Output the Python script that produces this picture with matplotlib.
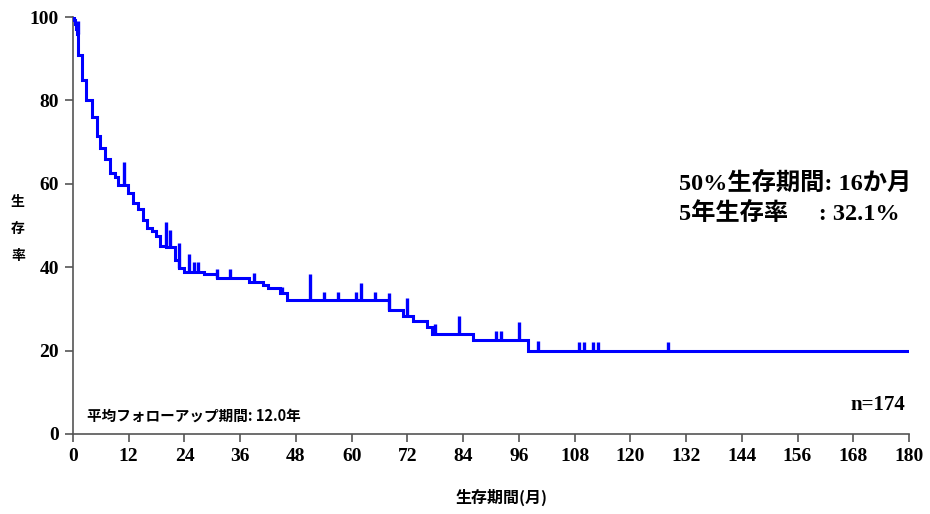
import numpy as np
import matplotlib
matplotlib.use("Agg")
import matplotlib.pyplot as plt

# Kaplan-Meier step curve: time of each drop (months) and survival after it (%)
event_months = [0, 0.2, 0.4, 0.6, 0.8, 1.1, 1.9, 2.9, 4.0, 5.1, 5.8, 6.9, 8.0,
                9.0, 9.7, 11.9, 13.0, 14.1, 15.0, 16.0, 17.0, 17.8, 18.8, 20.0,
                22.0, 22.9, 23.9, 28.1, 30.9, 38.0, 41.0, 42.0, 44.5, 46.0,
                68.0, 71.1, 73.1, 76.2, 77.2, 86.2, 98.0]
survival_pct = [100, 99.4, 98.3, 97.1, 96.0, 90.9, 84.9, 80.1, 76.0, 71.5, 68.6,
                65.9, 62.6, 61.6, 59.6, 57.7, 55.3, 53.9, 51.3, 49.3, 48.7, 47.4,
                45.2, 44.8, 41.8, 39.7, 38.9, 38.4, 37.4, 36.4, 35.7, 34.9, 33.9,
                32.1, 29.7, 28.4, 27.1, 25.6, 24.1, 22.5, 20.0]
curve_end_month = 180

# Censored observations: time (months) and top of the tick mark (%)
censor_months = [1.0, 11.0, 20.0, 20.9, 22.9, 25.0, 26.0, 27.0, 30.9, 33.9,
                 39.0, 45.1, 51.0, 54.0, 57.0, 61.0, 62.0, 65.0, 68.0, 72.0,
                 78.0, 83.1, 91.1, 92.1, 96.1, 100.1, 109.0, 110.0, 112.0,
                 113.1, 128.2]
censor_top_pct = [99.0, 65.3, 50.9, 48.9, 45.9, 43.1, 41.2, 41.2, 39.5, 39.5,
                  38.7, 35.2, 38.3, 34.1, 34.1, 34.1, 36.3, 34.1, 33.9, 32.7,
                  26.4, 28.4, 24.7, 24.7, 26.8, 22.2, 22.1, 22.1, 22.1, 22.1,
                  22.1]

x_ticks = list(range(0, 181, 12))
y_ticks = [0, 20, 40, 60, 80, 100]

median_text = "50%生存期間: 16か月"
five_year_text = "5年生存率     : 32.1%"
followup_text = "平均フォローアップ期間: 12.0年"
n_text = "n=174"
x_label = "生存期間(月)"
y_label = "生\n存\n率"

mixed = ["Liberation Serif", "Noto Sans CJK JP"]
gothic = ["Noto Sans CJK JP", "DejaVu Sans"]
blue = "#0000ff"

fig = plt.figure(figsize=(9.3, 5.14), dpi=100)
ax = fig.add_axes([73 / 930, (514 - 434) / 514, 836 / 930, 417 / 514])

t = np.array(event_months + [curve_end_month])
s = np.array(survival_pct + [survival_pct[-1]])
ax.step(t, s, where="post", color=blue, lw=2.2, solid_joinstyle="miter",
        zorder=3)

# censor ticks rise from the curve value at each censoring time
ct = np.array(censor_months)
idx = np.searchsorted(np.array(event_months), ct, side="right") - 1
base = np.array(survival_pct)[idx]
ax.vlines(ct, base, censor_top_pct, color=blue, lw=2.4, zorder=3)

ax.set_xlim(0, 180)
ax.set_ylim(0, 100)
ax.set_xticks(x_ticks)
ax.set_yticks(y_ticks)
for side in ("top", "right"):
    ax.spines[side].set_visible(False)
for side in ("left", "bottom"):
    ax.spines[side].set_color("#555555")
    ax.spines[side].set_linewidth(1.2)
ax.tick_params(axis="both", direction="out", length=6, width=1.2,
               color="#555555", pad=4)
for lab in ax.get_xticklabels() + ax.get_yticklabels():
    lab.set_fontfamily("Liberation Serif")
    lab.set_fontweight("bold")
    lab.set_fontsize(14)

fig.text(18 / 930, 1 - 229 / 514, y_label, family=gothic, weight="bold",
         fontsize=10, ha="center", va="center", linespacing=2.2)
fig.text(502 / 930, 1 - 497 / 514, x_label, family=gothic, weight="bold",
         fontsize=11.5, ha="center", va="center")

fig.text(679 / 930, 1 - 183 / 514, median_text, family=mixed,
         weight="bold", fontsize=17.5, ha="left", va="center")
fig.text(679 / 930, 1 - 213 / 514, five_year_text, family=mixed,
         weight="bold", fontsize=17.5, ha="left", va="center")
fig.text(87 / 930, 1 - 416 / 514, followup_text, family=gothic,
         weight="bold", fontsize=10.5, ha="left", va="center")
fig.text(905 / 930, 1 - 405 / 514, n_text, family="Liberation Serif",
         weight="bold", fontsize=15, ha="right", va="center")

fig.savefig("out.png", dpi=100, facecolor="white")
